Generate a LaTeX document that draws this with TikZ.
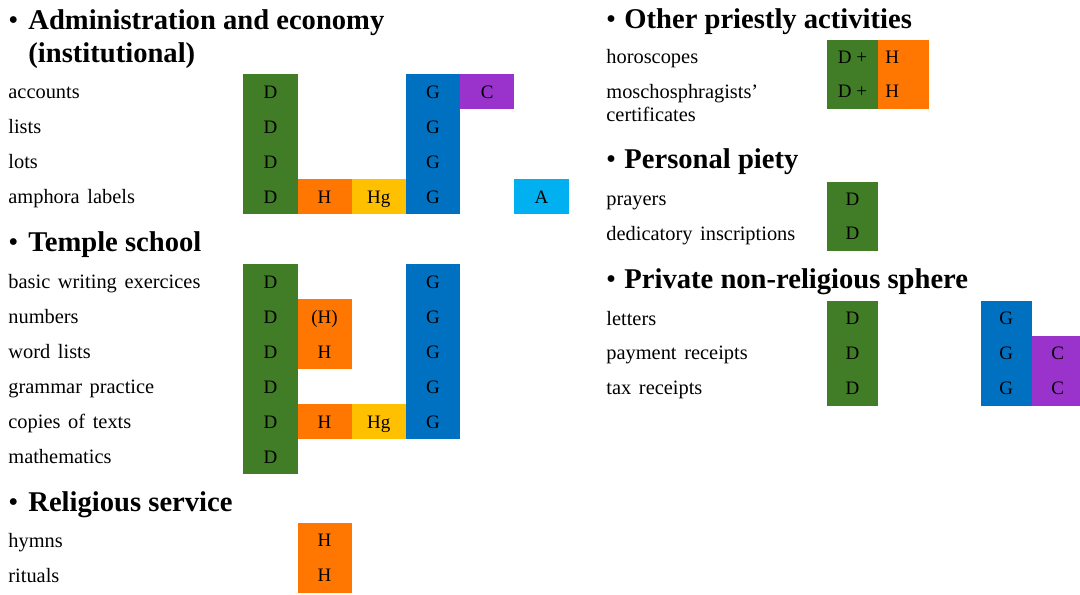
\documentclass[tikz,border=0pt]{standalone}
\usepackage{fontspec}
\setmainfont{Liberation Serif}
\newfontfamily\itemfont{Liberation Serif}[WordSpace=1.5]
\usetikzlibrary{positioning}

\definecolor{dgreen}{RGB}{64,125,38}
\definecolor{horange}{RGB}{255,119,0}
\definecolor{hgyellow}{RGB}{255,192,0}
\definecolor{gblue}{RGB}{0,112,192}
\definecolor{cpurple}{RGB}{153,51,204}
\definecolor{alightblue}{RGB}{0,176,240}

\tikzset{
    head/.style={anchor=base west, inner sep=0pt, font=\fontsize{14.3}{16}\selectfont\bfseries},
    dot/.style={anchor=base, inner sep=0pt, font=\fontsize{14.3}{16}\selectfont},
    item/.style={anchor=base west, inner sep=0pt, font=\itemfont\fontsize{10.2}{11.5}\selectfont},
    lcell/.style={minimum width=27.1pt, minimum height=17.5pt, inner sep=0pt,
        text height=6.3pt, text depth=0pt, font=\fontsize{9.5}{10}\selectfont},
    rcell/.style={lcell, minimum width=25.65pt}
}

\begin{document}
\begin{tikzpicture}[x=0.5pt, y=-0.5pt]
    \clip (0,0) rectangle (1080,594);

    % Administration and economy
    \node[dot] (adm-dot) at (13.3,29.5) {\textbullet};
    \node[head] (adm-head) at (28,29.5) {Administration and economy};
    \node[head] (adm-head2) at (28,62) {(institutional)};
    \foreach \lab [count=\r from 0] in {accounts,lists,lots,amphora labels}{
        \node[item] (adm-\r) at (8,{98.3+35*\r}) {\lab};
        \node[lcell, fill=dgreen] (adm-\r-D) at (270.4,{91.8+35*\r}) {D};
        \node[lcell, fill=gblue] (adm-\r-G) at (433,{91.8+35*\r}) {G};
    }
    \node[lcell, fill=cpurple] (adm-0-C) at (487.2,91.8) {C};
    \node[lcell, fill=horange] (adm-3-H) at (324.6,196.8) {H};
    \node[lcell, fill=hgyellow] (adm-3-Hg) at (378.8,196.8) {Hg};
    \node[lcell, fill=alightblue] (adm-3-A) at (541.4,196.8) {A};

    % Temple school
    \node[dot] (tmp-dot) at (13.3,251.7) {\textbullet};
    \node[head] (tmp-head) at (28,251.7) {Temple school};
    \foreach \lab [count=\r from 0] in {basic writing exercices,numbers,word lists,grammar practice,copies of texts,mathematics}{
        \node[item] (tmp-\r) at (8,{288.3+35*\r}) {\lab};
        \node[lcell, fill=dgreen] (tmp-\r-D) at (270.4,{281.8+35*\r}) {D};
    }
    \foreach \r in {0,...,4}{
        \node[lcell, fill=gblue] (tmp-\r-G) at (433,{281.8+35*\r}) {G};
    }
    \node[lcell, fill=horange] (tmp-1-H) at (324.6,316.8) {(H)};
    \node[lcell, fill=horange] (tmp-2-H) at (324.6,351.8) {H};
    \node[lcell, fill=horange] (tmp-4-H) at (324.6,421.8) {H};
    \node[lcell, fill=hgyellow] (tmp-4-Hg) at (378.8,421.8) {Hg};

    % Religious service
    \node[dot] (rel-dot) at (13.3,511.7) {\textbullet};
    \node[head] (rel-head) at (28,511.7) {Religious service};
    \foreach \lab [count=\r from 0] in {hymns,rituals}{
        \node[item] (rel-\r) at (8,{547+35*\r}) {\lab};
        \node[lcell, fill=horange] (rel-\r-H) at (324.6,{540.5+35*\r}) {H};
    }

    % Other priestly activities
    \node[dot] (oth-dot) at (611,28.5) {\textbullet};
    \node[head] (oth-head) at (624,28.5) {Other priestly activities};
    \node[item] (oth-0) at (606,63.6) {horoscopes};
    \node[item, anchor=north west, align=left] (oth-1) at (606,84) {moschosphragists’\\certificates};
    \foreach \r in {0,1}{
        \node[rcell, fill=dgreen] (oth-\r-D) at (852.4,{57.1+34.2*\r}) {D +};
        \node[rcell, fill=horange] (oth-\r-H) at (903.7,{57.1+34.2*\r}) {\hspace*{-11.5pt}H};
    }

    % Personal piety
    \node[dot] (per-dot) at (611,168.5) {\textbullet};
    \node[head] (per-head) at (624,168.5) {Personal piety};
    \foreach \lab [count=\r from 0] in {prayers,dedicatory inscriptions}{
        \node[item] (per-\r) at (606,{205.5+34.5*\r}) {\lab};
        \node[rcell, fill=dgreen] (per-\r-D) at (852.4,{199+34.5*\r}) {D};
    }

    % Private non-religious sphere
    \node[dot] (pri-dot) at (611,288.3) {\textbullet};
    \node[head] (pri-head) at (624,288.3) {Private non-religious sphere};
    \foreach \lab [count=\r from 0] in {letters,payment receipts,tax receipts}{
        \node[item] (pri-\r) at (606,{325+34.9*\r}) {\lab};
        \node[rcell, fill=dgreen] (pri-\r-D) at (852.4,{318.5+34.9*\r}) {D};
        \node[rcell, fill=gblue] (pri-\r-G) at (1006.3,{318.5+34.9*\r}) {G};
    }
    \node[rcell, fill=cpurple] (pri-1-C) at (1057.6,353.4) {C};
    \node[rcell, fill=cpurple] (pri-2-C) at (1057.6,388.3) {C};
\end{tikzpicture}
\end{document}
